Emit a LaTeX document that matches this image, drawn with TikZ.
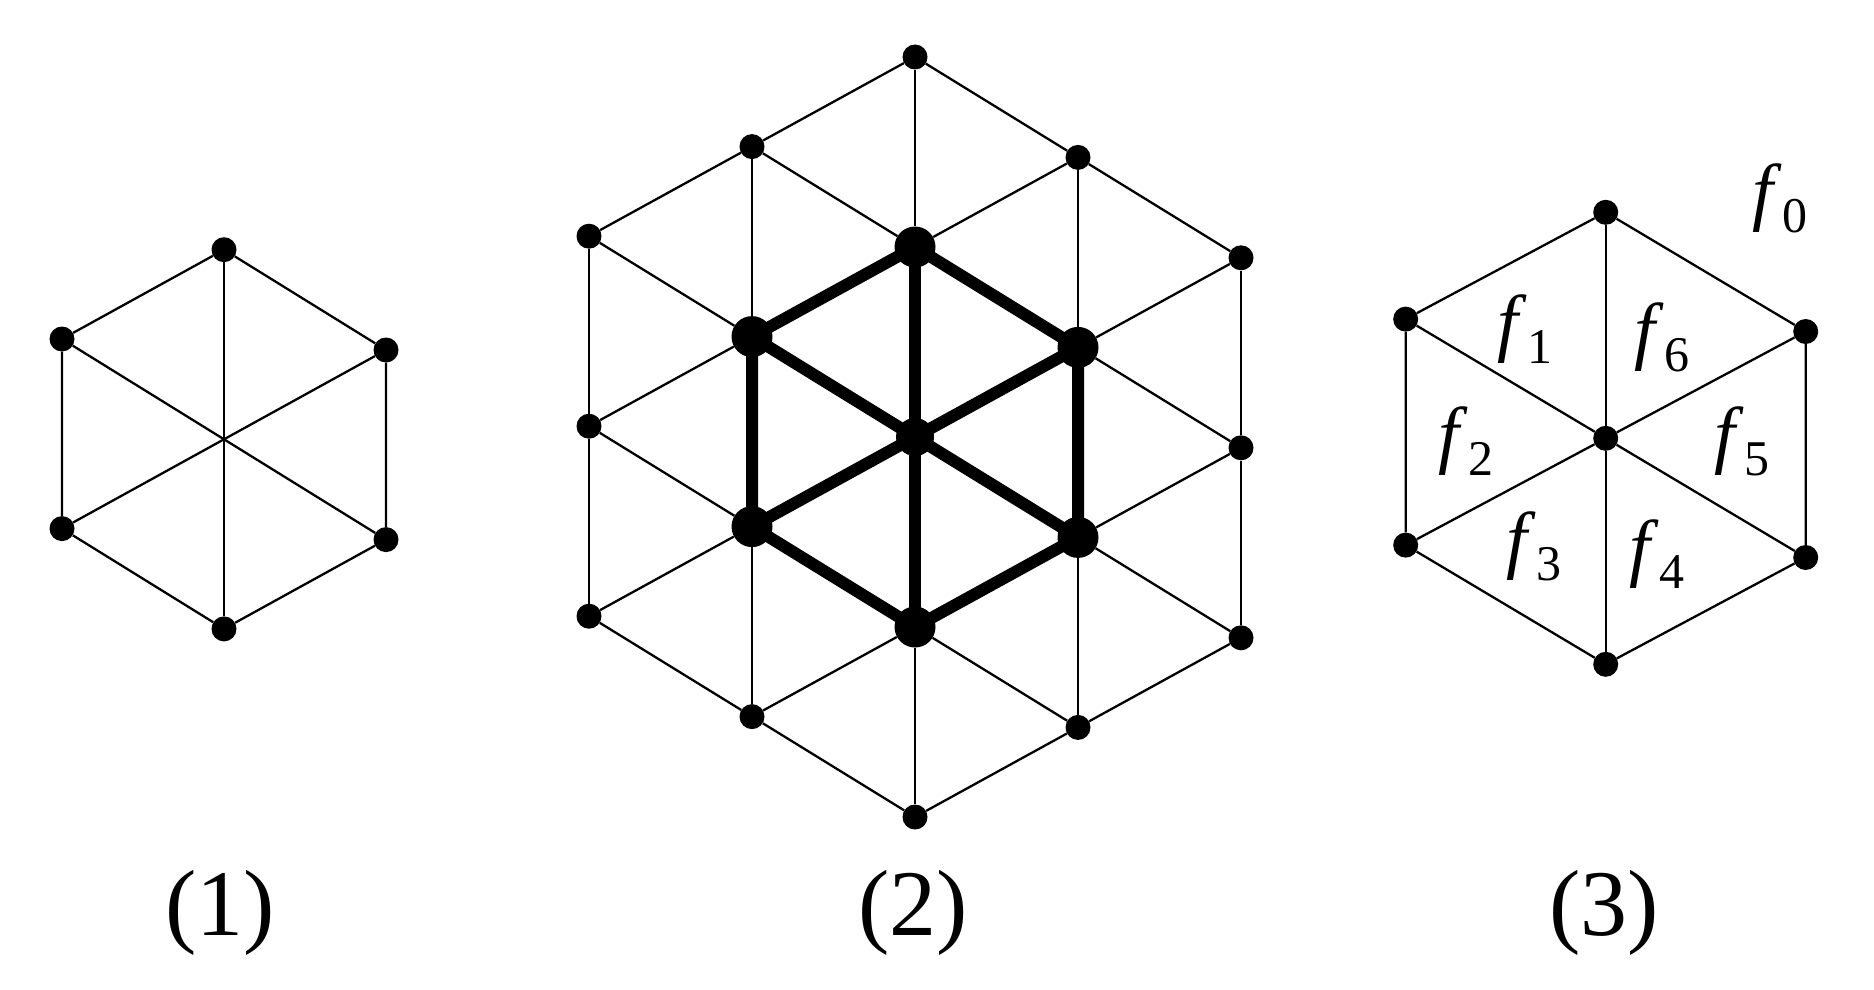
\documentclass[tikz,border=0pt]{standalone}
\usepackage{fontspec}
\setmainfont{Liberation Serif}[ItalicFont={Liberation Serif Italic}]
\newcommand{\flab}[1]{\textit{f}\raisebox{-16pt}{\fontsize{50}{50}\selectfont #1}}
\begin{document}
\begin{tikzpicture}[x=1pt,y=-1pt,
  thinedge/.style={line width=2.3pt},
  thickedge/.style={line width=12pt},
  smalldot/.style={circle,fill=black,inner sep=0pt,minimum size=25pt},
  bigdot/.style={circle,fill=black,inner sep=0pt,minimum size=41pt},
  middot/.style={circle,fill=black,inner sep=0pt,minimum size=38pt},
  flabel/.style={inner sep=0pt,font=\fontsize{75}{80}\selectfont},
  caption/.style={anchor=base,inner sep=0pt,font=\fontsize{94}{100}\selectfont}]
\useasboundingbox (0,0) rectangle (1874,990);

% ---------------- Figure (1) ----------------
\coordinate (p0) at (224,439.3);
\node[smalldot] (p1) at (224,249.7) {};
\node[smalldot] (p2) at (386,350) {};
\node[smalldot] (p3) at (386,539.6) {};
\node[smalldot] (p4) at (224,628.9) {};
\node[smalldot] (p5) at (62,528.6) {};
\node[smalldot] (p6) at (62,339) {};
\draw[thinedge] (p1) -- (p2) -- (p3) -- (p4) -- (p5) -- (p6) -- (p1);
\foreach \i in {1,...,6} \draw[thinedge] (p0) -- (p\i);

% ---------------- Figure (2) ----------------
% column 0
\node[smalldot] (A0) at (915,57) {};
\node[bigdot]   (A1) at (915,247) {};
\node[middot]   (A2) at (915,437) {};
\node[bigdot]   (A3) at (915,627) {};
\node[smalldot] (A4) at (915,817) {};
% column -1
\node[smalldot] (L0) at (752,146.6) {};
\node[bigdot]   (L1) at (752,336.6) {};
\node[bigdot]   (L2) at (752,526.6) {};
\node[smalldot] (L3) at (752,716.6) {};
% column 1
\node[smalldot] (R0) at (1078,157.4) {};
\node[bigdot]   (R1) at (1078,347.4) {};
\node[bigdot]   (R2) at (1078,537.4) {};
\node[smalldot] (R3) at (1078,727.4) {};
% column -2
\node[smalldot] (LL0) at (589,236.2) {};
\node[smalldot] (LL1) at (589,426.2) {};
\node[smalldot] (LL2) at (589,616.2) {};
% column 2
\node[smalldot] (RR0) at (1241,257.8) {};
\node[smalldot] (RR1) at (1241,447.8) {};
\node[smalldot] (RR2) at (1241,637.8) {};

% thin lattice edges
\draw[thinedge] (A0) -- (A1) (A1) -- (A2) (A2) -- (A3) (A3) -- (A4)
  (L0) -- (L1) (L1) -- (L2) (L2) -- (L3)
  (R0) -- (R1) (R1) -- (R2) (R2) -- (R3)
  (LL0) -- (LL1) (LL1) -- (LL2)
  (RR0) -- (RR1) (RR1) -- (RR2);
\draw[thinedge] (LL0) -- (L0) (LL0) -- (L1) (LL1) -- (L1) (LL1) -- (L2) (LL2) -- (L2) (LL2) -- (L3);
\draw[thinedge] (L0) -- (A0) (L0) -- (A1) (L1) -- (A1) (L1) -- (A2) (L2) -- (A2) (L2) -- (A3) (L3) -- (A3) (L3) -- (A4);
\draw[thinedge] (A0) -- (R0) (A1) -- (R0) (A1) -- (R1) (A2) -- (R1) (A2) -- (R2) (A3) -- (R2) (A3) -- (R3) (A4) -- (R3);
\draw[thinedge] (R0) -- (RR0) (R1) -- (RR0) (R1) -- (RR1) (R2) -- (RR1) (R2) -- (RR2) (R3) -- (RR2);

% thick inner hexagon
\draw[thickedge] (A1.center) -- (R1.center) (R1.center) -- (R2.center) (R2.center) -- (A3.center)
  (A3.center) -- (L2.center) (L2.center) -- (L1.center) (L1.center) -- (A1.center);
\foreach \n in {A1,R1,R2,A3,L2,L1} \draw[thickedge] (A2.center) -- (\n.center);

% ---------------- Figure (3) ----------------
\node[smalldot] (q0) at (1605.7,438.3) {};
\node[smalldot] (q1) at (1605.7,212.3) {};
\node[smalldot] (q2) at (1805.7,331.5) {};
\node[smalldot] (q3) at (1805.7,557.5) {};
\node[smalldot] (q4) at (1605.7,664.3) {};
\node[smalldot] (q5) at (1405.7,545.1) {};
\node[smalldot] (q6) at (1405.7,319.1) {};
\draw[thinedge] (q1) -- (q2) -- (q3) -- (q4) -- (q5) -- (q6) -- (q1);
\foreach \i in {1,...,6} \draw[thinedge] (q0) -- (q\i);

\node[flabel] (lf0) at (1780,198) {\flab{0}};
\node[flabel] (lf1) at (1525,329) {\flab{1}};
\node[flabel] (lf6) at (1662,337) {\flab{6}};
\node[flabel] (lf2) at (1466,441) {\flab{2}};
\node[flabel] (lf5) at (1742,441) {\flab{5}};
\node[flabel] (lf3) at (1534,546) {\flab{3}};
\node[flabel] (lf4) at (1657,554) {\flab{4}};

% ---------------- Captions ----------------
\node[caption] (cap1) at (220,935) {(1)};
\node[caption] (cap2) at (913,935) {(2)};
\node[caption] (cap3) at (1604,935) {(3)};
\end{tikzpicture}
\end{document}
